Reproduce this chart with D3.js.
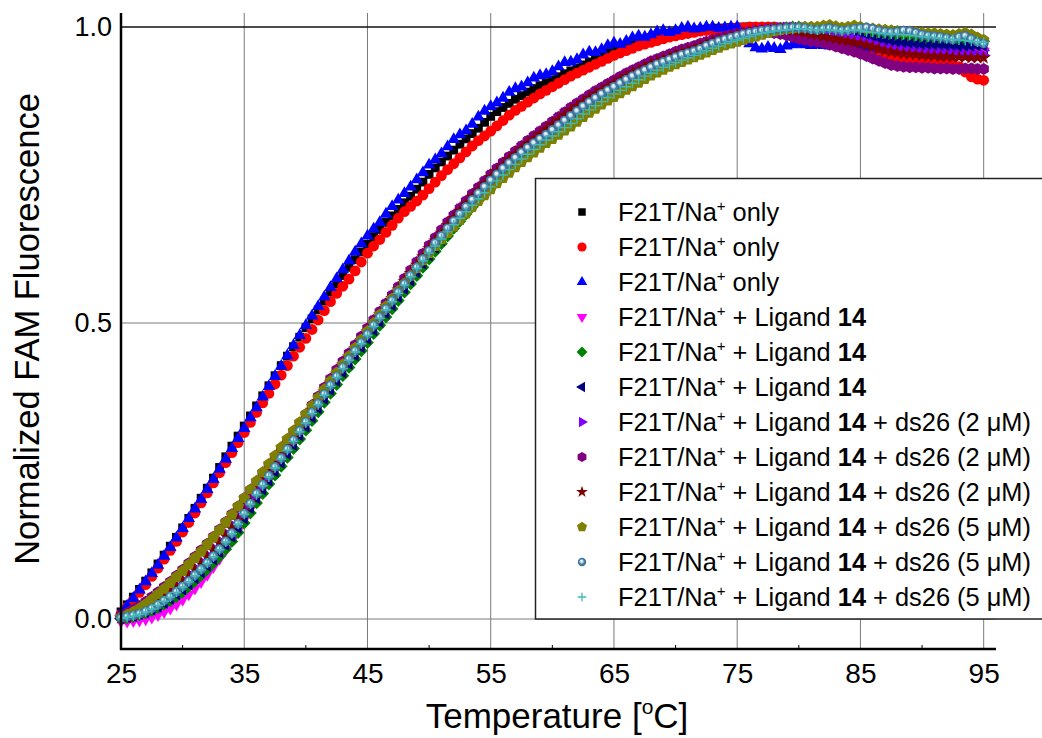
<!DOCTYPE html>
<html>
<head>
<meta charset="utf-8">
<script src="https://cdn.jsdelivr.net/npm/d3@7"></script>
<style>
  html, body { margin: 0; padding: 0; background: #fff; }
  svg { display: block; }
  text { font-family: "Liberation Sans", Arial, sans-serif; fill: #000; }
</style>
</head>
<body>
<div id="chart"></div>
<script>
// temperatures (°C), one reading every 0.5 degree
const temps = [25,25.5,26,26.5,27,27.5,28,28.5,29,29.5,30,30.5,31,31.5,32,32.5,33,33.5,34,34.5,
  35,35.5,36,36.5,37,37.5,38,38.5,39,39.5,40,40.5,41,41.5,42,42.5,43,43.5,44,44.5,
  45,45.5,46,46.5,47,47.5,48,48.5,49,49.5,50,50.5,51,51.5,52,52.5,53,53.5,54,54.5,
  55,55.5,56,56.5,57,57.5,58,58.5,59,59.5,60,60.5,61,61.5,62,62.5,63,63.5,64,64.5,
  65,65.5,66,66.5,67,67.5,68,68.5,69,69.5,70,70.5,71,71.5,72,72.5,73,73.5,74,74.5,
  75,75.5,76,76.5,77,77.5,78,78.5,79,79.5,80,80.5,81,81.5,82,82.5,83,83.5,84,84.5,
  85,85.5,86,86.5,87,87.5,88,88.5,89,89.5,90,90.5,91,91.5,92,92.5,93,93.5,94,94.5,95]

// F21T/Na+ only (three runs)
const naOnly1 = [.012,.024,.037,.050,.064,.078,.093,.108,.123,.138,
  .154,.170,.187,.204,.221,.238,.256,.274,.292,.309,
  .326,.343,.360,.377,.394,.411,.428,.444,.460,.476,
  .492,.507,.522,.537,.552,.566,.580,.594,.607,.620,
  .633,.646,.658,.670,.681,.692,.703,.714,.726,.738,
  .751,.762,.772,.782,.792,.802,.811,.820,.829,.839,
  .849,.857,.864,.871,.878,.884,.890,.896,.901,.906,
  .911,.916,.921,.926,.931,.936,.941,.946,.951,.956,
  .961,.965,.969,.973,.976,.979,.982,.985,.987,.989,
  .991,.992,.993,.994,.995,.996,.997,.998,.998,.999,
  .999,1,1,1,.999,1,1,.999,1,.998,
  .997,.995,.993,.991,.989,.987,.985,.983,.981,.979,
  .976,.972,.968,.964,.961,.959,.957,.956,.956,.955,
  .955,.955,.956,.955,.954,.955,.956,.955,.954,.955,.955]
const naOnly2 = [.008,.020,.032,.045,.058,.072,.086,.101,.116,.131,
  .147,.163,.179,.196,.213,.230,.247,.264,.281,.298,
  .315,.332,.349,.365,.381,.397,.412,.428,.444,.459,
  .474,.489,.505,.521,.536,.550,.562,.574,.588,.603,
  .618,.630,.641,.653,.665,.677,.688,.697,.706,.716,
  .727,.738,.749,.759,.769,.779,.789,.799,.808,.816,
  .824,.833,.842,.851,.859,.866,.873,.880,.887,.893,
  .899,.905,.911,.917,.922,.927,.932,.937,.942,.947,
  .952,.956,.960,.964,.968,.971,.974,.977,.980,.983,
  .985,.987,.989,.991,.993,.994,.995,.996,.997,.998,
  .999,.999,1,1,1,1,1,.999,.998,.996,
  .993,.990,.987,.985,.983,.981,.980,.979,.977,.975,
  .972,.968,.964,.959,.955,.951,.948,.947,.947,.946,
  .945,.944,.942,.940,.938,.936,.933,.924,.916,.912,.910]
const naOnly3 = [.010,.022,.035,.049,.063,.077,.091,.106,.121,.137,
  .153,.170,.186,.202,.219,.236,.253,.270,.288,.305,
  .322,.340,.357,.375,.393,.410,.427,.445,.462,.479,
  .496,.512,.528,.544,.560,.575,.590,.605,.620,.634,
  .647,.659,.670,.684,.697,.708,.719,.730,.742,.754,
  .767,.776,.786,.798,.810,.818,.825,.836,.848,.858,
  .866,.872,.880,.890,.896,.899,.906,.914,.918,.920,
  .925,.933,.940,.941,.945,.953,.958,.957,.962,.969,
  .973,.971,.976,.982,.985,.983,.987,.992,.994,.991,
  .994,.998,1,.997,.998,1,1,.998,.999,1,
  1,.985,.972,.965,.963,.966,.964,.962,.968,.970,
  .971,.970,.969,.970,.969,.968,.969,.968,.967,.968,
  .967,.966,.965,.963,.962,.961,.962,.960,.961,.960,
  .962,.961,.963,.962,.964,.965,.966,.965,.964,.966,.965]

// F21T/Na+ + ligand 14 (three runs)
const lig1 = [-.004,-.004,-.003,-.002,0,.003,.007,.012,.018,.025,
  .033,.042,.052,.063,.075,.088,.102,.117,.133,.150,
  .168,.186,.204,.221,.237,.253,.268,.283,.298,.314,
  .329,.345,.360,.376,.391,.406,.421,.435,.449,.463,
  .477,.492,.506,.520,.534,.548,.562,.576,.590,.604,
  .618,.631,.643,.656,.668,.680,.692,.704,.715,.726,
  .737,.747,.757,.766,.775,.784,.792,.800,.807,.814,
  .822,.830,.838,.846,.854,.862,.869,.876,.883,.889,
  .895,.901,.907,.913,.918,.923,.928,.933,.937,.941,
  .945,.949,.953,.957,.961,.966,.970,.974,.977,.980,
  .983,.986,.988,.990,.992,.994,.995,.996,.997,.998,
  .998,.997,.996,.995,.994,.993,.991,.989,.987,.985,
  .983,.980,.977,.974,.972,.970,.969,.968,.967,.966,
  .965,.964,.963,.962,.962,.961,.961,.960,.960,.959,.959]
const lig2 = [0,.002,.004,.007,.010,.014,.019,.025,.031,.038,
  .046,.055,.064,.074,.084,.095,.106,.118,.131,.146,
  .162,.179,.196,.212,.228,.243,.258,.273,.288,.304,
  .319,.335,.350,.366,.381,.396,.411,.425,.439,.453,
  .467,.482,.496,.510,.524,.538,.552,.566,.580,.594,
  .608,.621,.634,.647,.660,.672,.684,.696,.707,.718,
  .729,.740,.750,.760,.769,.778,.787,.795,.803,.811,
  .819,.827,.835,.843,.851,.859,.866,.873,.880,.887,
  .893,.899,.905,.911,.917,.922,.927,.932,.937,.941,
  .945,.949,.953,.957,.961,.965,.969,.973,.977,.980,
  .983,.986,.989,.991,.993,.995,.997,.998,.999,1,
  1,.999,.998,.997,.998,.997,.995,.994,.995,.996,
  .995,.993,.991,.989,.987,.985,.984,.983,.982,.981,
  .980,.979,.978,.977,.976,.975,.974,.973,.974,.975,.976]
const lig3 = [.001,.003,.005,.008,.011,.016,.021,.027,.034,.042,
  .050,.059,.069,.079,.090,.101,.113,.125,.139,.154,
  .170,.187,.204,.219,.234,.249,.264,.279,.294,.310,
  .325,.341,.356,.372,.387,.402,.417,.431,.445,.459,
  .473,.488,.502,.516,.530,.544,.558,.572,.586,.600,
  .614,.627,.640,.652,.664,.676,.688,.700,.711,.722,
  .733,.743,.753,.763,.772,.781,.789,.797,.805,.812,
  .820,.828,.836,.844,.852,.860,.867,.874,.881,.888,
  .894,.900,.906,.912,.918,.923,.928,.933,.938,.942,
  .946,.950,.954,.958,.962,.966,.970,.974,.977,.980,
  .983,.986,.988,.990,.992,.994,.995,.996,.997,.998,
  .998,.997,.995,.993,.992,.991,.989,.987,.985,.984,
  .982,.980,.978,.976,.975,.974,.973,.972,.971,.970,
  .969,.968,.968,.967,.967,.966,.966,.967,.967,.968,.968]

// + ds26 (2 uM)
const ds2a = [.003,.006,.010,.014,.019,.025,.032,.040,.048,.057,
  .066,.076,.086,.097,.108,.120,.132,.145,.159,.174,
  .189,.204,.219,.234,.249,.264,.279,.294,.309,.325,
  .340,.356,.371,.387,.402,.417,.432,.446,.460,.474,
  .488,.503,.517,.531,.545,.559,.573,.587,.601,.615,
  .629,.642,.655,.668,.680,.692,.704,.716,.727,.738,
  .749,.759,.769,.779,.788,.797,.806,.814,.822,.830,
  .838,.846,.854,.862,.869,.876,.883,.890,.896,.902,
  .908,.914,.920,.925,.930,.935,.940,.944,.948,.952,
  .956,.960,.963,.966,.970,.974,.977,.980,.983,.986,
  .988,.990,.992,.994,.995,.996,.997,.998,.999,.999,
  .998,.996,.994,.992,.990,.988,.986,.984,.982,.980,
  .977,.974,.971,.968,.965,.963,.961,.960,.959,.958,
  .957,.957,.956,.956,.955,.955,.954,.954,.953,.953,.952]
const ds2b = [.005,.010,.016,.022,.029,.037,.045,.054,.063,.073,
  .083,.094,.105,.116,.127,.139,.151,.164,.177,.190,
  .204,.218,.232,.246,.260,.274,.288,.302,.316,.331,
  .346,.361,.376,.391,.406,.421,.435,.449,.463,.477,
  .491,.505,.519,.533,.547,.561,.575,.589,.603,.617,
  .631,.644,.657,.670,.682,.694,.706,.718,.729,.740,
  .751,.761,.771,.781,.790,.799,.808,.816,.824,.832,
  .840,.848,.856,.864,.871,.878,.885,.892,.898,.904,
  .910,.916,.922,.927,.932,.937,.942,.946,.950,.954,
  .958,.962,.965,.968,.972,.975,.978,.981,.984,.986,
  .988,.990,.991,.992,.992,.991,.990,.988,.986,.983,
  .980,.978,.976,.975,.973,.970,.967,.964,.961,.958,
  .955,.951,.947,.943,.939,.936,.934,.933,.932,.932,
  .931,.931,.930,.930,.930,.929,.929,.930,.930,.929,.929]
const ds2c = [.002,.005,.008,.012,.017,.023,.030,.038,.046,.055,
  .064,.074,.084,.094,.105,.116,.128,.140,.153,.167,
  .182,.198,.214,.230,.246,.261,.276,.291,.306,.322,
  .337,.353,.368,.384,.399,.414,.429,.443,.457,.471,
  .485,.500,.514,.528,.542,.556,.570,.584,.598,.612,
  .626,.639,.652,.665,.677,.689,.701,.713,.724,.735,
  .746,.756,.766,.776,.785,.794,.803,.811,.819,.827,
  .835,.843,.851,.859,.866,.873,.880,.887,.893,.899,
  .905,.911,.917,.922,.927,.932,.937,.941,.945,.949,
  .953,.957,.960,.963,.967,.971,.975,.978,.981,.984,
  .987,.989,.991,.993,.994,.995,.996,.996,.995,.994,
  .992,.990,.988,.986,.984,.982,.980,.978,.976,.974,
  .972,.969,.966,.963,.960,.958,.956,.955,.954,.953,
  .952,.951,.951,.950,.950,.949,.949,.949,.948,.948,.948]

// + ds26 (5 uM)
const ds5a = [.003,.007,.012,.018,.025,.033,.042,.051,.061,.071,
  .081,.092,.103,.114,.126,.138,.150,.163,.176,.190,
  .204,.219,.233,.248,.262,.276,.290,.304,.318,.332,
  .346,.360,.374,.388,.402,.416,.430,.444,.458,.472,
  .486,.500,.514,.528,.541,.554,.567,.580,.593,.606,
  .618,.630,.641,.652,.663,.674,.685,.696,.706,.716,
  .726,.736,.745,.754,.763,.772,.780,.788,.796,.804,
  .811,.818,.825,.832,.840,.848,.855,.862,.869,.876,
  .882,.888,.894,.900,.906,.912,.918,.923,.928,.933,
  .937,.941,.945,.949,.953,.957,.961,.965,.969,.972,
  .975,.978,.981,.984,.987,.990,.993,.995,.997,.998,
  .999,1,1,1,1.002,1.003,1.001,.999,1,1.002,
  1,.998,.997,.996,.995,.994,.993,.992,.992,.991,
  .990,.989,.989,.988,.987,.986,.988,.990,.987,.982,.978]
const ds5b = [.002,.004,.006,.009,.013,.018,.024,.031,.038,.046,
  .055,.064,.074,.084,.095,.106,.118,.131,.145,.161,
  .178,.195,.212,.227,.242,.257,.272,.287,.302,.318,
  .333,.349,.364,.380,.395,.410,.425,.439,.453,.467,
  .481,.496,.510,.524,.538,.552,.566,.580,.594,.608,
  .622,.635,.647,.660,.672,.684,.696,.708,.719,.730,
  .741,.751,.761,.770,.779,.788,.796,.804,.811,.818,
  .826,.834,.842,.850,.858,.866,.873,.880,.887,.893,
  .899,.905,.911,.917,.922,.927,.932,.937,.941,.945,
  .949,.953,.956,.959,.963,.968,.972,.976,.979,.982,
  .985,.988,.990,.992,.994,.995,.996,.997,.998,.999,
  .999,.998,.996,.995,.997,.998,.996,.994,.995,.997,
  .998,.999,.997,.994,.992,.991,.992,.994,.993,.990,
  .987,.985,.984,.983,.981,.979,.983,.985,.980,.975,.972]
const ds5c = [.001,.003,.005,.008,.012,.017,.023,.030,.037,.045,
  .054,.063,.073,.083,.094,.105,.117,.130,.144,.160,
  .177,.194,.210,.225,.240,.255,.270,.285,.300,.316,
  .331,.347,.362,.378,.393,.408,.423,.437,.451,.465,
  .479,.494,.508,.522,.536,.550,.564,.578,.592,.605,
  .618,.630,.642,.654,.666,.677,.688,.699,.710,.720,
  .730,.740,.750,.759,.768,.777,.785,.793,.801,.809,
  .816,.823,.830,.837,.845,.853,.860,.867,.874,.881,
  .887,.893,.899,.905,.911,.917,.922,.927,.932,.936,
  .940,.944,.948,.952,.956,.960,.964,.968,.972,.975,
  .978,.981,.984,.987,.989,.991,.993,.994,.995,.996,
  .997,.997,.996,.995,.996,.995,.994,.993,.994,.995,
  .994,.992,.991,.990,.989,.988,.988,.987,.986,.985,
  .984,.983,.982,.981,.980,.979,.978,.977,.976,.975,.974]

const xTicks = [25, 35, 45, 55, 65, 75, 85, 95]
const xMinor = [30, 40, 50, 60, 70, 80, 90]
const yTicks = [0, 0.5, 1.0]

// legend text pieces: tail before the bold ligand number, then the ds26 part
const labelHead = [' only', ' only', ' only', ' + Ligand ', ' + Ligand ', ' + Ligand ',
  ' + Ligand ', ' + Ligand ', ' + Ligand ', ' + Ligand ', ' + Ligand ', ' + Ligand ']
const labelBold = ['', '', '', '14', '14', '14', '14', '14', '14', '14', '14', '14']
const labelTail = ['', '', '', '', '', '', ' + ds26 (2 \u03bcM)', ' + ds26 (2 \u03bcM)', ' + ds26 (2 \u03bcM)',
  ' + ds26 (5 \u03bcM)', ' + ds26 (5 \u03bcM)', ' + ds26 (5 \u03bcM)']

const seriesValues = [naOnly1, naOnly2, naOnly3, lig1, lig2, lig3, ds2a, ds2b, ds2c, ds5a, ds5b, ds5c]
const seriesColors = ['#000000', '#ff0000', '#0000ff', '#ff00ff', '#008000', '#000080',
  '#8000ff', '#800080', '#800000', '#808000', 'url(#sphere)', '#40b8b8']
const seriesShapes = ['square', 'circle', 'triUp', 'triDown', 'diamond', 'triLeft',
  'triRight', 'hexagon', 'star', 'pentagon', 'sphere', 'plus']

const width = 1042
const height = 738

// regular polygon, first vertex at angle a0 (radians, 0 = up)
const polygon = (n, r, a0) => {
  const pts = d3.range(n).map(i => {
    const a = a0 + i * 2 * Math.PI / n
    return [r * Math.sin(a), -r * Math.cos(a)]
  })
  return 'M' + pts.map(p => p[0].toFixed(2) + ',' + p[1].toFixed(2)).join('L') + 'Z'
}

// k scales the marker (plot markers are a bit bigger than legend ones)
const symbolPath = (shape, k = 1) => {
  switch (shape) {
    case 'square': return `M${-4.4 * k},${-4.4 * k}h${8.8 * k}v${8.8 * k}h${-8.8 * k}Z`
    case 'circle': return d3.symbol(d3.symbolCircle, Math.PI * Math.pow(5.4 * k, 2))()
    case 'sphere': return d3.symbol(d3.symbolCircle, Math.PI * Math.pow(4.9 * k, 2))()
    case 'triUp': return polygon(3, 7.2 * k, 0)
    case 'triDown': return polygon(3, 7.2 * k, Math.PI)
    case 'triLeft': return polygon(3, 7 * k, -Math.PI / 2)
    case 'triRight': return polygon(3, 7 * k, Math.PI / 2)
    case 'diamond': return polygon(4, 6.4 * k, 0)
    case 'hexagon': return polygon(6, 6 * k, 0)
    case 'pentagon': return polygon(5, 6.2 * k, 0)
    case 'star': return d3.symbol(d3.symbolStar, 60 * k * k)()
    case 'plus': return `M${-5 * k},0H${5 * k}M0,${-5 * k}V${5 * k}`
  }
}

const svg = d3.select('#chart')
  .append('svg')
  .attr('width', width)
  .attr('height', height)

const defs = svg.append('defs')
const grad = defs.append('radialGradient')
  .attr('id', 'sphere')
  .attr('cx', '50%').attr('cy', '50%').attr('r', '55%')
  .attr('fx', '42%').attr('fy', '38%')
grad.append('stop').attr('offset', '0%').attr('stop-color', '#ffffff')
grad.append('stop').attr('offset', '28%').attr('stop-color', '#cfe0ea')
grad.append('stop').attr('offset', '55%').attr('stop-color', '#4d86ad')
grad.append('stop').attr('offset', '100%').attr('stop-color', '#2b5f86')

const x = d3.scaleLinear().domain([25, 96]).range([121, 996])
const y = d3.scaleLinear().domain([0, 1]).range([619, 27])
const yTop = 13
const yBottom = 649

// grid
svg.append('g')
  .selectAll('line')
  .data(xTicks.slice(1))
  .join('line')
  .attr('x1', d => x(d)).attr('x2', d => x(d))
  .attr('y1', yTop).attr('y2', yBottom)
  .attr('stroke', '#7a7a7a')
  .attr('stroke-width', 1)

svg.append('g')
  .selectAll('line')
  .data(yTicks)
  .join('line')
  .attr('x1', x(25)).attr('x2', x(96))
  .attr('y1', d => y(d)).attr('y2', d => y(d))
  .attr('stroke', d => d === 1 ? '#111' : '#7a7a7a')
  .attr('stroke-width', d => d === 1 ? 1.4 : 1)

// data markers, first series at the bottom
seriesValues.forEach((vals, si) => {
  const pts = temps.map((t, i) => ({ t, v: vals[i] }))
  const shape = seriesShapes[si]
  const isPlus = shape === 'plus'
  svg.append('g')
    .selectAll('path')
    .data(pts)
    .join('path')
    .attr('d', symbolPath(shape))
    .attr('transform', d => `translate(${x(d.t)},${y(d.v)})`)
    .attr('fill', isPlus ? 'none' : seriesColors[si])
    .attr('stroke', isPlus ? seriesColors[si] : 'none')
    .attr('stroke-width', isPlus ? 1.4 : 0)
})

// axes
const xAxis = svg.append('g')
  .attr('transform', `translate(0,${yBottom})`)
  .call(d3.axisBottom(x).tickValues(xTicks).tickSize(0).tickPadding(14))
xAxis.select('.domain').remove()
xAxis.selectAll('text')
  .style('font-family', '"Liberation Sans", Arial, sans-serif')
  .style('font-size', '28px')
  .attr('fill', '#000')

const yAxis = svg.append('g')
  .attr('transform', `translate(${x(25)},0)`)
  .call(d3.axisLeft(y).tickValues(yTicks).tickSize(0).tickPadding(9).tickFormat(d3.format('.1f')))
yAxis.select('.domain').remove()
yAxis.selectAll('text')
  .style('font-family', '"Liberation Sans", Arial, sans-serif')
  .style('font-size', '27px')
  .attr('fill', '#000')

// minor ticks pointing up from the x axis
svg.append('g')
  .selectAll('line')
  .data(xMinor)
  .join('line')
  .attr('x1', d => x(d)).attr('x2', d => x(d))
  .attr('y1', yBottom - 4).attr('y2', yBottom)
  .attr('stroke', '#000')

svg.append('line')
  .attr('x1', x(25)).attr('x2', x(25))
  .attr('y1', yTop).attr('y2', yBottom + 1)
  .attr('stroke', '#000').attr('stroke-width', 2.5)
svg.append('line')
  .attr('x1', x(25) - 1).attr('x2', x(96))
  .attr('y1', yBottom).attr('y2', yBottom)
  .attr('stroke', '#000').attr('stroke-width', 2.5)

// axis titles
const xTitle = svg.append('text')
  .attr('x', 557).attr('y', 728)
  .attr('text-anchor', 'middle')
  .style('font-size', '35px')
xTitle.append('tspan').text('Temperature [')
xTitle.append('tspan').attr('dy', -14).style('font-size', '21px').text('o')
xTitle.append('tspan').attr('dy', 14).text('C]')

svg.append('text')
  .attr('transform', 'translate(39,329) rotate(-90)')
  .attr('text-anchor', 'middle')
  .style('font-size', '34.5px')
  .text('Normalized FAM Fluorescence')

// legend
const legend = svg.append('g')
legend.append('rect')
  .attr('x', 535.5).attr('y', 178.5)
  .attr('width', 520).attr('height', 440.5)
  .attr('fill', '#fff')
  .attr('stroke', '#222')
  .attr('stroke-width', 1.5)

const rows = legend.selectAll('g.row')
  .data(seriesShapes)
  .join('g')
  .attr('class', 'row')
  .attr('transform', (d, i) => `translate(0,${212 + i * 35})`)

rows.append('path')
  .attr('d', d => symbolPath(d, 0.85))
  .attr('transform', 'translate(582,0)')
  .attr('fill', (d, i) => d === 'plus' ? 'none' : seriesColors[i])
  .attr('stroke', (d, i) => d === 'plus' ? seriesColors[i] : 'none')
  .attr('stroke-width', d => d === 'plus' ? 1.3 : 0)

const label = rows.append('text')
  .attr('x', 618).attr('y', 9)
  .style('font-size', '25.4px')
label.append('tspan').text('F21T/Na')
label.append('tspan').attr('dy', -10).style('font-size', '15px').text('+')
label.append('tspan').attr('dy', 10).text((d, i) => labelHead[i])
label.append('tspan').style('font-weight', 'bold').text((d, i) => labelBold[i])
label.append('tspan').text((d, i) => labelTail[i])
</script>
</body>
</html>
